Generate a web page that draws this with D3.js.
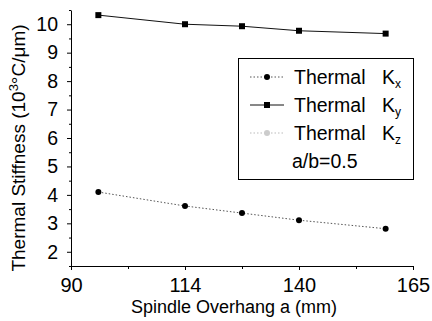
<!DOCTYPE html>
<html>
<head>
<meta charset="utf-8">
<script src="https://cdn.jsdelivr.net/npm/d3@7"></script>
<style>
  body { margin: 0; background: #fff; }
  svg { display: block; font-family: "Liberation Sans", Arial, sans-serif; }
</style>
</head>
<body>
<div id="chart"></div>
<script>
// data
const overhang = [96, 115, 127.5, 140, 159];
const thermalKx = [4.1, 3.61, 3.36, 3.11, 2.81];
const thermalKy = [10.32, 10.0, 9.93, 9.77, 9.67];
const xTicks = [90, 115, 140, 165];
const xTickLabels = ["90", "114", "140", "165"];
const xMinor = [102.5, 127.5, 152.5];
const yTicks = [2, 3, 4, 5, 6, 7, 8, 9, 10];
const yMinor = [1.5, 2.5, 3.5, 4.5, 5.5, 6.5, 7.5, 8.5, 9.5, 10.5];

let width = 432;
let height = 321;

let svg = d3
  .select("#chart")
  .append("svg")
  .attr("width", width)
  .attr("height", height);

let x = d3.scaleLinear().domain([90, 165]).range([71, 413]);
let y = d3.scaleLinear().domain([1.5, 10.5]).range([266, 10]);

// minor ticks first
svg
  .append("g")
  .attr("transform", "translate(71,0)")
  .call(d3.axisLeft(y).tickValues(yMinor).tickSize(2).tickFormat(""))
  .call((g) => g.select(".domain").remove());
svg
  .append("g")
  .attr("transform", "translate(0,266)")
  .call(d3.axisBottom(x).tickValues(xMinor).tickSize(3).tickFormat(""))
  .call((g) => g.select(".domain").remove());

// y axis
let yAxis = svg
  .append("g")
  .attr("transform", "translate(71,0)")
  .call(d3.axisLeft(y).tickValues(yTicks).tickSize(4).tickSizeOuter(0).tickPadding(9));
yAxis.selectAll("text").attr("font-size", 19.5).attr("fill", "#000").attr("font-family", "Liberation Sans, Arial, sans-serif");

// x axis
let xAxis = svg
  .append("g")
  .attr("transform", "translate(0,266)")
  .call(
    d3
      .axisBottom(x)
      .tickValues(xTicks)
      .tickFormat((d, i) => xTickLabels[i])
      .tickSize(4)
      .tickSizeOuter(0)
      .tickPadding(8)
  );
xAxis.selectAll("text").attr("font-size", 20).attr("fill", "#000").attr("font-family", "Liberation Sans, Arial, sans-serif");

svg.selectAll(".domain, .tick line").attr("stroke", "#000");

// axis titles
svg
  .append("text")
  .attr("x", 234)
  .attr("y", 313)
  .attr("text-anchor", "middle")
  .attr("font-size", 18)
  .text("Spindle Overhang a (mm)");

let yt = svg
  .append("text")
  .attr("transform", "translate(25,148) rotate(-90)")
  .attr("text-anchor", "middle")
  .attr("font-size", 19);
yt.append("tspan").text("Thermal Stiffness (10");
yt.append("tspan").attr("font-size", 13).attr("dy", -7).text("3");
yt.append("tspan").attr("dy", 7).text("°C/μm)");

// lines
let line = d3
  .line()
  .x((d, i) => x(overhang[i]))
  .y((d) => y(d));

svg
  .append("path")
  .datum(thermalKy)
  .attr("d", line)
  .attr("fill", "none")
  .attr("stroke", "#111")
  .attr("stroke-width", 1);

svg
  .append("path")
  .datum(thermalKx)
  .attr("d", line)
  .attr("fill", "none")
  .attr("stroke", "#555")
  .attr("stroke-width", 1)
  .attr("stroke-dasharray", "1.5,2");

svg
  .selectAll(".sq")
  .data(thermalKy)
  .enter()
  .append("rect")
  .attr("class", "sq")
  .attr("x", (d, i) => x(overhang[i]) - 3)
  .attr("y", (d) => y(d) - 3)
  .attr("width", 6)
  .attr("height", 6)
  .attr("fill", "#000");

svg
  .selectAll(".dot")
  .data(thermalKx)
  .enter()
  .append("circle")
  .attr("class", "dot")
  .attr("cx", (d, i) => x(overhang[i]))
  .attr("cy", (d) => y(d))
  .attr("r", 3)
  .attr("fill", "#000");

// legend
let legend = svg.append("g");
legend
  .append("rect")
  .attr("x", 238.5)
  .attr("y", 58.5)
  .attr("width", 175)
  .attr("height", 121)
  .attr("fill", "#fff")
  .attr("stroke", "#000")
  .attr("stroke-width", 1);

let entries = [
  { sub: "x", cy: 77, stroke: "#555", dash: "1.5,2", mark: "circle", fill: "#000" },
  { sub: "y", cy: 105, stroke: "#111", dash: null, mark: "rect", fill: "#000" },
  { sub: "z", cy: 133, stroke: "#bbb", dash: "1.5,2", mark: "circle", fill: "#ccc" },
];

entries.forEach((e) => {
  legend
    .append("line")
    .attr("x1", 250)
    .attr("x2", 284)
    .attr("y1", e.cy)
    .attr("y2", e.cy)
    .attr("stroke", e.stroke)
    .attr("stroke-dasharray", e.dash);
  if (e.mark == "rect") {
    legend.append("rect").attr("x", 264).attr("y", e.cy - 3).attr("width", 6).attr("height", 6).attr("fill", e.fill);
  } else {
    legend.append("circle").attr("cx", 267).attr("cy", e.cy).attr("r", 3).attr("fill", e.fill);
  }
  legend
    .append("text")
    .attr("x", 294)
    .attr("y", e.cy + 7)
    .attr("font-size", 19.5)
    .text("Thermal");
  let t = legend
    .append("text")
    .attr("x", 382)
    .attr("y", e.cy + 7)
    .attr("font-size", 19.5);
  t.append("tspan").text("K");
  t.append("tspan").attr("font-size", 12).attr("dy", 4).text(e.sub);
});

legend
  .append("text")
  .attr("x", 292)
  .attr("y", 168)
  .attr("font-size", 19.5)
  .text("a/b=0.5");
</script>
</body>
</html>
